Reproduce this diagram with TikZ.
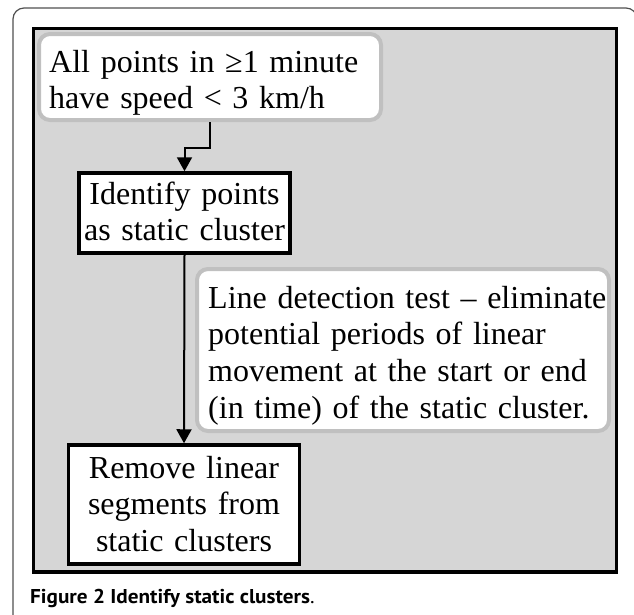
\documentclass[tikz,border=0pt]{standalone}
\usepackage{fontspec}
\setmainfont{Liberation Serif}
\newfontfamily\capfont[FakeStretch=1.06]{PT Sans}
\usetikzlibrary{arrows.meta}
\definecolor{panelgray}{HTML}{D6D6D6}
\definecolor{boxgray}{HTML}{C0C0C0}
\definecolor{framegray}{HTML}{505050}
\begin{document}
\begin{tikzpicture}[x=1pt,y=-1pt,
  roundbox/.style={draw=boxgray, line width=4pt, fill=white, rounded corners=11pt, inner sep=0pt},
  sqbox/.style={draw=black, line width=3.5pt, fill=white, inner sep=0pt},
  boxtext/.style={font=\fontsize{32}{36.7}\selectfont, inner sep=0pt, text width=#1},
  conn/.style={line width=2pt, -{Triangle[length=14pt,width=15pt]}},
]
\useasboundingbox (0,0) rectangle (634,614);
\fill[white] (0,0) rectangle (634,614);
\draw[framegray, line width=1.2pt, rounded corners=11pt] (13,620) -- (13,8) -- (637,8) -- (637,620);
\draw[fill=panelgray, line width=3.5pt] (33.5,28.5) rectangle (616.5,572);

\node[roundbox, minimum width=342pt, minimum height=86pt] (top) at (210,77) {};
\node[sqbox, minimum width=211pt, minimum height=80pt] (b2) at (184.5,213) {};
\node[roundbox, minimum width=412pt, minimum height=162pt] (line) at (403,350) {};
\node[sqbox, minimum width=231pt, minimum height=119pt] (b3) at (184,504.5) {};

\node[boxtext=330pt, align=left, anchor=base west] (toptext) at (49,72)
  {All points in ≥1 minute\\have speed < 3 km/h};
\node[boxtext=220pt, align=center, anchor=base] (b2text) at (184.5,204)
  {Identify points\\as static cluster};
\node[boxtext=400pt, align=left, anchor=base west] (linetext) at (208,308)
  {Line detection test – eliminate\\potential periods of linear\\movement at the start or end\\(in time) of the static cluster.};
\node[boxtext=240pt, align=center, anchor=base] (b3text) at (184,478)
  {Remove linear\\segments from\\static clusters};

\draw[conn] (top.south) -- ++(0,26) -| (b2.north);
\draw[conn] (b2.south) -- (b3.north);

\node[anchor=base west, inner sep=0pt, font=\capfont\fontsize{20}{24}\selectfont] (cap) at (30,603)
  {\textbf{Figure 2 Identify static clusters}.};
\end{tikzpicture}
\end{document}
